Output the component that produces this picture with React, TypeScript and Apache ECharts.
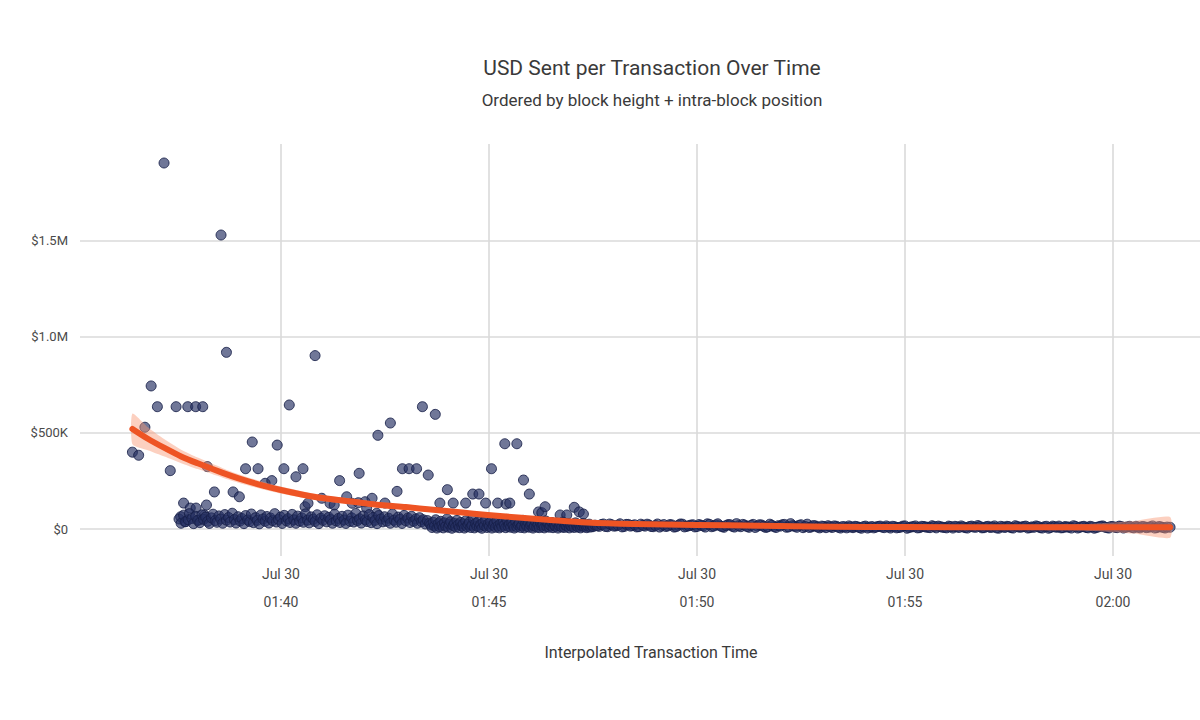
import React, { useEffect, useRef } from 'react';
import * as echarts from 'echarts';

// time is minutes after 01:00 on Jul 30, values are thousands of USD
const xTickValues = [40, 45, 50, 55, 60];
const xTickLabels = ['01:40', '01:45', '01:50', '01:55', '02:00'];
const xDateLabel = 'Jul 30';
const yTickValues = [0, 500, 1000, 1500];
const yTickLabels = ['$0', '$500K', '$1.0M', '$1.5M'];

// the big transactions above the dense band
const outliers = [
  [36.43, 400], [36.58, 384], [36.73, 530], [36.88, 745], [37.03, 637], [37.19, 1906], [37.34, 304],
  [37.48, 637], [37.59, 64], [37.66, 135], [37.69, 38], [37.76, 637], [37.82, 109], [37.95, 637],
  [37.96, 109], [38.03, 47], [38.12, 637], [38.16, 73], [38.21, 125], [38.23, 325], [38.4, 193],
  [38.56, 1531], [38.69, 920], [38.85, 193], [39.0, 168], [39.15, 314], [39.31, 453], [39.45, 314],
  [39.62, 238], [39.78, 252], [39.91, 437], [40.07, 314], [40.2, 646], [40.36, 272], [40.53, 314],
  [40.58, 116], [40.65, 134], [40.82, 903], [40.98, 160], [41.18, 134], [41.28, 125], [41.41, 252],
  [41.58, 168], [41.71, 134], [41.86, 137], [41.88, 290], [42.02, 142], [42.06, 108], [42.19, 160],
  [42.3, 82], [42.33, 488], [42.5, 135], [42.63, 552], [42.79, 196], [42.92, 314], [43.08, 314],
  [43.26, 314], [43.4, 637], [43.54, 281], [43.71, 597], [43.82, 135], [44.0, 205], [44.14, 135],
  [44.44, 135], [44.61, 182], [44.76, 182], [44.92, 135], [45.06, 314], [45.21, 135], [45.38, 444],
  [45.41, 130], [45.5, 135], [45.67, 444], [45.83, 255], [45.97, 182], [46.19, 89], [46.27, 85],
  [46.35, 116], [46.71, 73], [46.87, 73], [47.05, 113], [47.17, 89], [47.27, 78],
];

// dense band 01:37:30 - 01:43:30
const bandEarly = [
  [37.55, 52], [37.6, 30], [37.66, 72], [37.71, 38], [37.77, 48], [37.8, 80], [37.86, 55], [37.9, 28],
  [37.95, 66], [38.0, 45], [38.05, 33], [38.1, 74], [38.14, 50], [38.19, 62], [38.24, 40], [38.28, 29],
  [38.33, 58], [38.37, 77], [38.42, 44], [38.46, 35], [38.51, 68], [38.55, 52], [38.6, 30], [38.65, 75],
  [38.69, 46], [38.74, 60], [38.78, 36], [38.83, 82], [38.88, 49], [38.92, 31], [38.97, 64], [39.02, 42],
  [39.06, 55], [39.11, 28], [39.15, 70], [39.2, 47], [39.25, 38], [39.29, 78], [39.34, 33], [39.39, 59],
  [39.43, 45], [39.48, 27], [39.52, 73], [39.57, 52], [39.62, 40], [39.66, 65], [39.71, 31], [39.75, 57],
  [39.8, 44], [39.85, 80], [39.89, 36], [39.94, 50], [39.99, 62], [40.03, 29], [40.08, 71], [40.13, 43],
  [40.17, 54], [40.22, 34], [40.27, 76], [40.31, 48], [40.36, 30], [40.4, 67], [40.45, 41], [40.5, 58],
  [40.54, 35], [40.59, 79], [40.64, 46], [40.68, 32], [40.73, 63], [40.78, 51], [40.82, 39], [40.87, 74],
  [40.91, 28], [40.96, 56], [41.01, 45], [41.05, 69], [41.1, 37], [41.15, 61], [41.19, 49], [41.24, 30],
  [41.29, 77], [41.33, 42], [41.38, 55], [41.42, 34], [41.47, 66], [41.52, 47], [41.56, 29], [41.61, 72],
  [41.66, 40], [41.7, 58], [41.75, 36], [41.8, 81], [41.84, 44], [41.89, 53], [41.93, 31], [41.98, 68],
  [42.03, 48], [42.07, 39], [42.12, 75], [42.17, 33], [42.21, 60], [42.26, 45], [42.31, 28], [42.35, 70],
  [42.4, 52], [42.45, 37], [42.49, 64], [42.54, 41], [42.59, 56], [42.63, 30], [42.68, 78], [42.72, 46],
  [42.77, 35], [42.82, 62], [42.86, 50], [42.91, 29], [42.96, 71], [43.0, 43], [43.05, 57], [43.1, 34],
  [43.14, 66], [43.19, 40], [43.24, 52], [43.28, 30], [43.33, 59], [43.38, 38], [43.42, 48], [43.47, 26],
  [43.52, 44], [43.57, 30],
];

// darker band 01:43:30 - 01:47:30
const bandMid = [
  [43.6, 22], [43.63, 8], [43.66, 35], [43.69, 15], [43.72, 48], [43.75, 5], [43.78, 28], [43.81, 12],
  [43.84, 40], [43.87, 20], [43.9, 6], [43.93, 32], [43.96, 14], [43.99, 52], [44.02, 9], [44.05, 25],
  [44.08, 38], [44.11, 4], [44.14, 18], [44.17, 30], [44.2, 10], [44.23, 45], [44.26, 22], [44.29, 7],
  [44.32, 34], [44.35, 15], [44.38, 27], [44.41, 5], [44.44, 42], [44.47, 12], [44.5, 24], [44.53, 36],
  [44.56, 8], [44.59, 19], [44.62, 55], [44.65, 6], [44.68, 29], [44.71, 14], [44.74, 38], [44.77, 10],
  [44.8, 23], [44.83, 4], [44.86, 33], [44.89, 17], [44.92, 46], [44.95, 8], [44.98, 26], [45.01, 13],
  [45.04, 37], [45.07, 5], [45.1, 21], [45.13, 31], [45.16, 9], [45.19, 43], [45.22, 16], [45.25, 6],
  [45.28, 28], [45.31, 12], [45.34, 35], [45.37, 20], [45.4, 7], [45.43, 50], [45.46, 14], [45.49, 25],
  [45.52, 9], [45.55, 32], [45.58, 18], [45.61, 5], [45.64, 40], [45.67, 11], [45.7, 22], [45.73, 30],
  [45.76, 8], [45.79, 17], [45.82, 45], [45.85, 6], [45.88, 26], [45.91, 13], [45.94, 35], [45.97, 9],
  [46.0, 20], [46.03, 28], [46.06, 5], [46.09, 15], [46.12, 38], [46.15, 10], [46.18, 24], [46.21, 7],
  [46.24, 32], [46.27, 14], [46.3, 22], [46.33, 6], [46.36, 42], [46.39, 12], [46.42, 27], [46.45, 9],
  [46.48, 18], [46.51, 34], [46.54, 7], [46.57, 21], [46.6, 13], [46.63, 30], [46.66, 5], [46.69, 16],
  [46.72, 25], [46.75, 10], [46.78, 36], [46.81, 8], [46.84, 20], [46.87, 14], [46.9, 28], [46.93, 6],
  [46.96, 18], [46.99, 12], [47.02, 24], [47.05, 8], [47.08, 32], [47.11, 15], [47.14, 10], [47.17, 22],
  [47.2, 6], [47.23, 17], [47.26, 28], [47.29, 11], [47.32, 20], [47.35, 7], [47.38, 15], [47.41, 25],
  [47.44, 10], [47.47, 18], [47.5, 12],
];

// thin tail after 01:47:30
const bandTail = [
  [47.55, 20], [47.65, 14], [47.75, 26], [47.85, 12], [47.95, 22], [48.05, 16], [48.15, 27], [48.25, 13],
  [48.35, 24], [48.45, 18], [48.55, 11], [48.65, 25], [48.75, 15], [48.85, 21], [48.95, 12], [49.05, 26],
  [49.15, 17], [49.25, 13], [49.35, 23], [49.45, 10], [49.55, 19], [49.65, 25], [49.75, 14], [49.85, 20],
  [49.95, 11], [50.05, 23], [50.15, 16], [50.25, 27], [50.35, 12], [50.45, 21], [50.55, 17], [50.65, 9],
  [50.75, 23], [50.85, 14], [50.95, 28], [51.05, 12], [51.15, 20], [51.25, 9], [51.35, 24], [51.45, 15],
  [51.55, 21], [51.65, 8], [51.75, 25], [51.85, 12], [51.95, 17], [52.05, 22], [52.15, 9], [52.25, 28],
  [52.35, 14], [52.45, 19], [52.55, 7], [52.65, 25], [52.75, 11], [52.85, 16], [52.95, 6], [53.05, 13],
  [53.15, 17], [53.25, 8], [53.35, 14], [53.45, 5], [53.55, 11], [53.65, 16], [53.75, 7], [53.85, 12],
  [53.95, 4], [54.05, 15], [54.15, 9], [54.25, 6], [54.35, 13], [54.45, 10], [54.55, 16], [54.65, 5],
  [54.75, 12], [54.85, 8], [54.95, 15], [55.05, 4], [55.15, 11], [55.25, 16], [55.35, 7], [55.45, 13],
  [55.55, 9], [55.65, 17], [55.75, 6], [55.85, 12], [55.95, 8], [56.05, 15], [56.15, 5], [56.25, 11],
  [56.35, 16], [56.45, 7], [56.55, 13], [56.65, 10], [56.75, 18], [56.85, 6], [56.95, 12], [57.05, 8],
  [57.15, 16], [57.25, 4], [57.35, 11], [57.45, 14], [57.55, 7], [57.65, 17], [57.75, 9], [57.85, 13],
  [57.95, 5], [58.05, 11], [58.15, 16], [58.25, 7], [58.35, 12], [58.45, 4], [58.55, 15], [58.65, 9],
  [58.75, 6], [58.85, 13], [58.95, 10], [59.05, 17], [59.15, 5], [59.25, 12], [59.35, 8], [59.45, 14],
  [59.55, 4], [59.65, 11], [59.75, 16], [59.85, 7], [59.95, 13], [60.05, 9], [60.15, 15], [60.25, 5],
  [60.35, 11], [60.45, 8], [60.55, 14], [60.65, 6], [60.75, 12], [60.85, 9], [60.95, 16], [61.05, 7],
  [61.15, 11], [61.25, 5], [61.37, 9],
];

// more tail transactions, interleaved with the ones above
const bandTail2 = [
  [47.6, 17], [47.7, 23], [47.8, 13], [47.9, 26], [48.0, 15], [48.1, 20], [48.2, 11], [48.3, 24],
  [48.4, 15], [48.5, 22], [48.6, 12], [48.7, 19], [48.8, 25], [48.9, 13], [49.0, 18], [49.1, 10],
  [49.2, 23], [49.3, 16], [49.4, 21], [49.5, 12], [49.6, 26], [49.7, 11], [49.8, 17], [49.9, 22],
  [50.0, 13], [50.1, 19], [50.2, 10], [50.3, 24], [50.4, 15], [50.5, 27], [50.6, 12], [50.7, 18],
  [50.8, 22], [50.9, 10], [51.0, 17], [51.1, 24], [51.2, 13], [51.3, 19], [51.4, 8], [51.5, 22],
  [51.6, 14], [51.7, 11], [51.8, 19], [51.9, 8], [52.0, 15], [52.1, 24], [52.2, 11], [52.3, 17],
  [52.4, 9], [52.5, 22], [52.6, 13], [52.7, 8], [52.8, 18], [52.9, 10], [53.0, 15], [53.1, 7],
  [53.2, 12], [53.3, 16], [53.4, 9], [53.5, 13], [53.6, 6], [53.7, 11], [53.8, 14], [53.9, 8],
  [54.0, 12], [54.1, 5], [54.2, 13], [54.3, 10], [54.4, 15], [54.5, 7], [54.6, 11], [54.7, 14],
  [54.8, 6], [54.9, 10], [55.0, 16], [55.1, 8], [55.2, 12], [55.3, 6], [55.4, 14], [55.5, 10],
  [55.6, 7], [55.7, 13], [55.8, 15], [55.9, 9], [56.0, 6], [56.1, 12], [56.2, 14], [56.3, 8],
  [56.4, 11], [56.5, 5], [56.6, 15], [56.7, 9], [56.8, 13], [56.9, 7], [57.0, 14], [57.1, 10],
  [57.2, 6], [57.3, 14], [57.4, 8], [57.5, 12], [57.6, 5], [57.7, 13], [57.8, 10], [57.9, 15],
  [58.0, 7], [58.1, 9], [58.2, 13], [58.3, 5], [58.4, 14], [58.5, 8], [58.6, 11], [58.7, 15],
  [58.8, 7], [58.9, 10], [59.0, 5], [59.1, 13], [59.2, 9], [59.3, 14], [59.4, 6], [59.5, 11],
  [59.6, 8], [59.7, 14], [59.8, 10], [59.9, 5], [60.0, 12], [60.1, 7], [60.2, 13], [60.3, 9],
  [60.4, 14], [60.5, 6], [60.6, 10], [60.7, 13], [60.8, 7], [60.9, 11], [61.0, 5], [61.1, 13],
  [61.2, 8], [61.3, 10],
];

// smoothed trend and its confidence band
const fitTime = [36.43, 36.8, 37.2, 37.6, 38.0, 38.6, 39.0, 39.5, 40.0, 40.5, 41.0, 41.74, 42.38, 43.0, 43.66,
  44.3, 44.97, 45.7, 46.47, 47.35, 48.5, 50.0, 51.5, 53.2, 55.0, 57.3, 58.5, 59.5, 60.5, 61.37];
const fitValue = [521, 470, 422, 378, 342, 292, 262, 230, 203, 180, 161, 142, 125, 114, 100,
  87, 73, 60, 47, 34, 26, 21, 17, 12, 10, 9, 9, 9, 9, 9];
const bandLow = [441, 410, 377, 343, 312, 267, 240, 210, 185, 163, 145, 127, 111, 101, 88,
  76, 63, 50, 36, 22, 14, 9, 5, 0, -2, -3, -6, -10, -24, -45];
const bandHigh = [601, 530, 467, 413, 372, 317, 284, 250, 221, 197, 177, 157, 139, 127, 112,
  98, 83, 70, 58, 46, 38, 33, 29, 24, 22, 21, 24, 28, 42, 63];

const App: React.FC = () => {
  const chartRef = useRef<HTMLDivElement>(null);

  useEffect(() => {
    document.body.style.margin = '0';
    if (!chartRef.current) return;
    const chart = echarts.init(chartRef.current, null, { renderer: 'svg' });

    const font = 'Roboto, "Noto Sans", sans-serif';
    const points = [...outliers, ...bandEarly, ...bandMid, ...bandTail, ...bandTail2];

    const option: any = {
      animation: false,
      backgroundColor: '#ffffff',
      textStyle: { fontFamily: font },
      grid: { left: 80, right: 0, top: 144, bottom: 164, containLabel: false, outerBoundsMode: 'none' },
      graphic: [
        {
          type: 'text',
          style: {
            text: 'USD Sent per Transaction Over Time', x: 652, y: 68, textAlign: 'center',
            textVerticalAlign: 'middle', fill: '#3a3a3a', font: `21px ${font}`,
          },
        },
        {
          type: 'text',
          style: {
            text: 'Ordered by block height + intra-block position', x: 652, y: 100, textAlign: 'center',
            textVerticalAlign: 'middle', fill: '#3a3a3a', font: `17px ${font}`,
          },
        },
        {
          type: 'text',
          style: {
            text: 'Interpolated Transaction Time', x: 651, y: 652, textAlign: 'center',
            textVerticalAlign: 'middle', fill: '#3a3a3a', font: `16px ${font}`,
          },
        },
      ],
      xAxis: {
        type: 'value',
        min: 35.17,
        max: 62.09,
        axisLine: { show: false },
        axisTick: { show: false, customValues: xTickValues },
        axisLabel: {
          customValues: xTickValues,
          margin: 4,
          fontSize: 14,
          lineHeight: 28,
          color: '#4a4a4a',
          formatter: (v: number) => {
            const i = xTickValues.indexOf(v);
            return i >= 0 ? `${xDateLabel}\n${xTickLabels[i]}` : '';
          },
        },
        splitLine: { show: true, lineStyle: { color: '#dadada', width: 1.6 } },
      },
      yAxis: {
        type: 'value',
        min: -140.6,
        max: 2005,
        axisLine: { show: false },
        axisTick: { show: false, customValues: yTickValues },
        axisLabel: {
          customValues: yTickValues,
          margin: 12,
          fontSize: 13,
          color: '#4a4a4a',
          formatter: (v: number) => {
            const i = yTickValues.indexOf(v);
            return i >= 0 ? yTickLabels[i] : '';
          },
        },
        splitLine: { show: true, lineStyle: { color: '#dadada', width: 1.6 } },
      },
      series: [
        {
          // points, confidence band and trend in one group so the trend is painted last
          type: 'custom',
          silent: true,
          clip: true,
          data: [[fitTime[0], fitValue[0]]],
          renderItem: (_params: any, api: any) => {
            const dots = points.map(([t, v]) => {
              const [cx, cy] = api.coord([t, v]);
              return {
                type: 'circle',
                shape: { cx, cy, r: 5 },
                style: { fill: 'rgba(38, 48, 98, 0.66)', stroke: 'rgba(22, 30, 72, 0.85)', lineWidth: 1 },
                z2: 0,
              };
            });
            const upper = fitTime.map((t, i) => api.coord([t, bandHigh[i]]));
            const lower = fitTime.map((t, i) => api.coord([t, bandLow[i]])).reverse();
            const trend = fitTime.map((t, i) => api.coord([t, fitValue[i]]));
            return {
              type: 'group',
              children: [
                ...dots,
                {
                  type: 'polygon',
                  shape: { points: [...upper, ...lower], smooth: 0.2 },
                  style: { fill: 'rgba(248, 150, 115, 0.45)' },
                  z2: 1,
                },
                {
                  type: 'polyline',
                  shape: { points: trend, smooth: 0.3 },
                  style: { stroke: '#ee5424', lineWidth: 6, fill: 'none', lineCap: 'round' },
                  z2: 2,
                },
              ],
            };
          },
        },
      ],
    };

    chart.setOption(option);
    return () => {
      chart.dispose();
    };
  }, []);

  return <div ref={chartRef} style={{ width: 1200, height: 720 }} />;
};

export default App;
